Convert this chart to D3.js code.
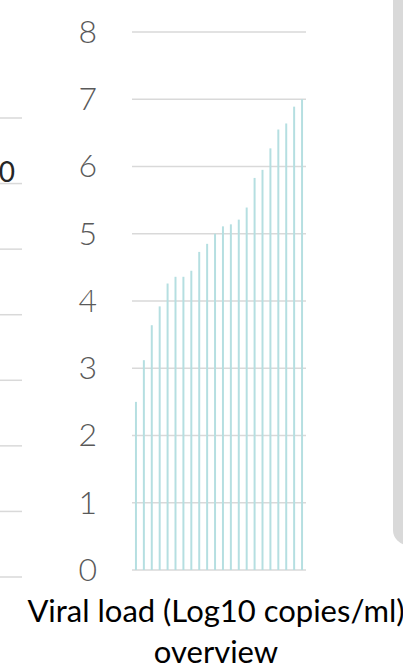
<!DOCTYPE html>
<html>
  <head>
    <meta charset="utf-8" />
    <title>Viral load overview</title>
    <style>
      body { margin: 0; background: #fff; }
      svg { display: block; }
    </style>
  </head>
  <body>
  <div id="container"></div>
  <script src="https://cdn.jsdelivr.net/npm/d3@7/dist/d3.min.js"></script>
  <script type="text/javascript">

    // one bar per sample, sorted low to high
    var samples = ['S1','S2','S3','S4','S5','S6','S7','S8','S9','S10','S11',
                   'S12','S13','S14','S15','S16','S17','S18','S19','S20','S21','S22'];
    var viralLoad = [2.50, 3.12, 3.64, 3.92, 4.26, 4.36, 4.36, 4.45, 4.73, 4.85, 5.00,
                     5.11, 5.14, 5.21, 5.39, 5.83, 5.95, 6.27, 6.55, 6.64, 6.89, 7.00];
    var yTicks = [0, 1, 2, 3, 4, 5, 6, 7, 8];
    var titleLines = ['Viral load (Log10 copies/ml)', 'overview'];

    // neighbouring panel on the left, only its edge is in view
    var leftGrid = [0, 1, 2, 3, 4, 5, 6, 7];
    var leftLabel = '0';

    var width = 403;
    var height = 669;

    var svg = d3.select('#container').append('svg')
      .attr('width', width).attr('height', height);

    // scales
    var x = d3.scaleBand().domain(samples).range([132, 306])
      .paddingInner(0.75).paddingOuter(0.375);
    var y = d3.scaleLinear().domain([0, 8]).range([570, 32]);
    var yLeft = d3.scaleLinear().domain([0, 7]).range([577, 118]);

    // left panel edge
    svg.append('g').selectAll('line').data(leftGrid).enter().append('line')
      .attr('x1', 0).attr('x2', 22)
      .attr('y1', function(d){ return yLeft(d); })
      .attr('y2', function(d){ return yLeft(d); })
      .attr('stroke', '#d9d9d9').attr('stroke-width', 1.5);
    svg.append('text')
      .attr('x', 15).attr('y', yLeft(6) - 2)
      .attr('text-anchor', 'end')
      .attr('font-family', 'Lato, sans-serif').attr('font-size', 28)
      .attr('fill', '#262626')
      .text(leftLabel);

    // right grey panel
    svg.append('path')
      .attr('d', 'M393,0 H410 V545 H408 A15,15 0 0 1 393,530 Z')
      .attr('fill', '#d9d9d9');

    // gridlines
    svg.append('g').selectAll('line').data(yTicks).enter().append('line')
      .attr('x1', 132).attr('x2', 306)
      .attr('y1', function(d){ return y(d); })
      .attr('y2', function(d){ return y(d); })
      .attr('stroke', '#d9d9d9').attr('stroke-width', 1.5);

    // y axis labels
    var yAxis = d3.axisLeft(y).tickValues(yTicks).tickSize(0).tickPadding(0);
    var axisG = svg.append('g').attr('transform', 'translate(97,0)').call(yAxis);
    axisG.select('.domain').remove();
    axisG.selectAll('text')
      .attr('font-family', 'Lato, sans-serif')
      .attr('font-weight', 300)
      .attr('font-size', 32)
      .attr('fill', '#595959');

    // bars
    svg.append('g').selectAll('rect').data(viralLoad).enter().append('rect')
      .attr('x', function(d, i){ return x(samples[i]); })
      .attr('width', x.bandwidth())
      .attr('y', function(d){ return y(d); })
      .attr('height', function(d){ return y(0) - y(d); })
      .attr('fill', '#b5dfe1');

    // title
    svg.append('g').selectAll('text').data(titleLines).enter().append('text')
      .attr('x', 216)
      .attr('y', function(d, i){ return 622 + i * 41; })
      .attr('text-anchor', 'middle')
      .attr('font-family', 'Lato, sans-serif')
      .attr('font-size', 31)
      .attr('fill', '#000')
      .text(function(d){ return d; });

  </script>
  </body>
</html>
